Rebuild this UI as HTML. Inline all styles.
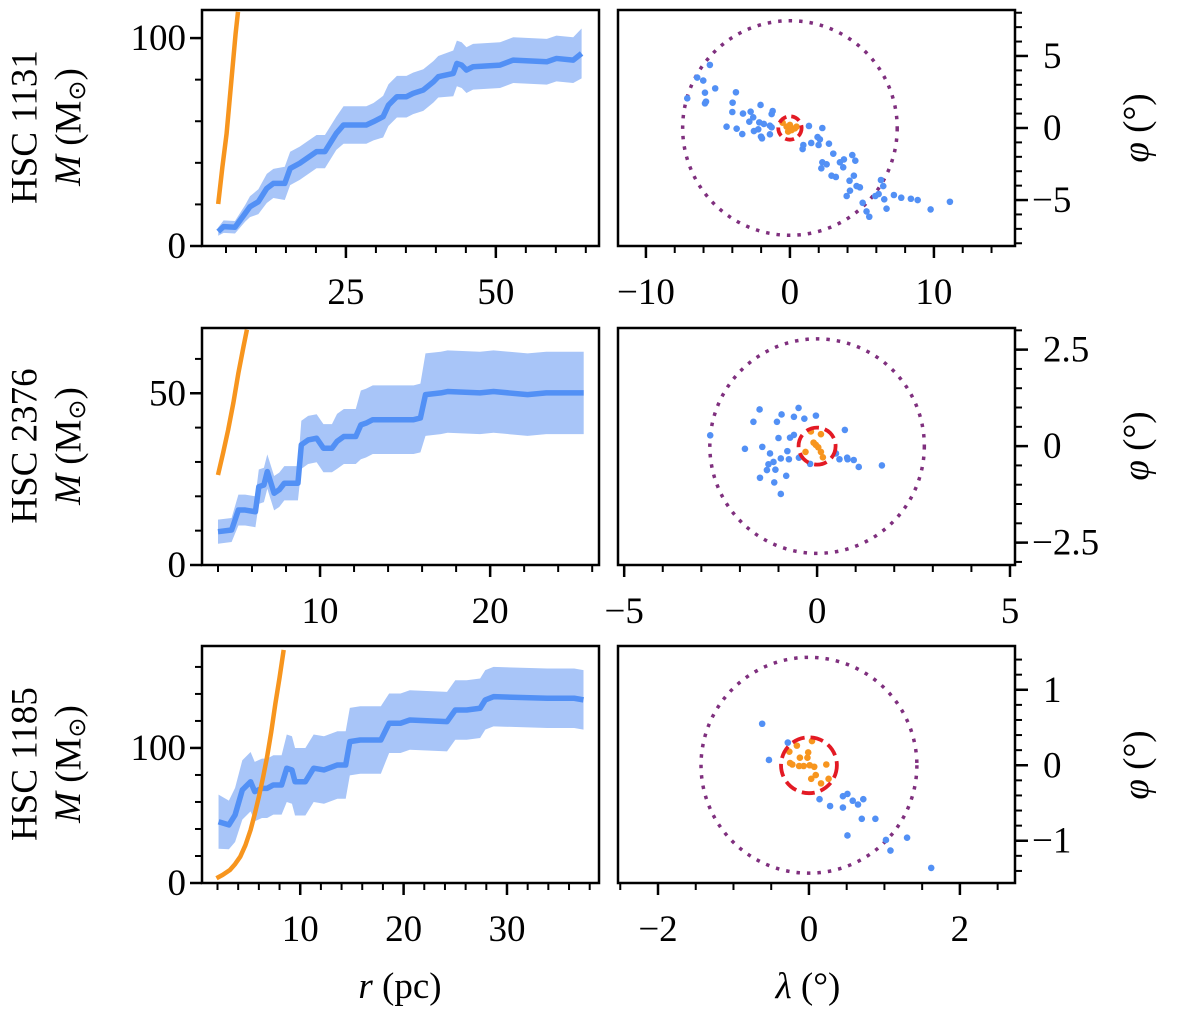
<!DOCTYPE html>
<html><head><meta charset="utf-8">
<style>
html,body{margin:0;padding:0;background:#fff;}
svg{display:block;font-family:"Liberation Serif",serif;}
</style></head>
<body>
<svg id="fig" width="1200" height="1010" viewBox="0 0 1200 1010" xmlns="http://www.w3.org/2000/svg">
<g id="root"></g>
<text x="28" y="127" font-size="37" text-anchor="middle" transform="rotate(-90 28 127)" dominant-baseline="middle">HSC 1131</text>
<text x="72" y="127" font-size="37" text-anchor="middle" transform="rotate(-90 72 127)" dominant-baseline="middle"><tspan font-style="italic">M</tspan> (M<tspan font-size="24" dy="7">⊙</tspan><tspan dy="-7">)</tspan></text>
<text x="28" y="446" font-size="37" text-anchor="middle" transform="rotate(-90 28 446)" dominant-baseline="middle">HSC 2376</text>
<text x="72" y="446" font-size="37" text-anchor="middle" transform="rotate(-90 72 446)" dominant-baseline="middle"><tspan font-style="italic">M</tspan> (M<tspan font-size="24" dy="7">⊙</tspan><tspan dy="-7">)</tspan></text>
<text x="28" y="764" font-size="37" text-anchor="middle" transform="rotate(-90 28 764)" dominant-baseline="middle">HSC 1185</text>
<text x="72" y="764" font-size="37" text-anchor="middle" transform="rotate(-90 72 764)" dominant-baseline="middle"><tspan font-style="italic">M</tspan> (M<tspan font-size="24" dy="7">⊙</tspan><tspan dy="-7">)</tspan></text>
<text x="1140" y="128" font-size="37" text-anchor="middle" transform="rotate(-90 1140 128)" dominant-baseline="middle"><tspan font-style="italic">φ</tspan> (°)</text>
<text x="1140" y="446" font-size="37" text-anchor="middle" transform="rotate(-90 1140 446)" dominant-baseline="middle"><tspan font-style="italic">φ</tspan> (°)</text>
<text x="1140" y="765" font-size="37" text-anchor="middle" transform="rotate(-90 1140 765)" dominant-baseline="middle"><tspan font-style="italic">φ</tspan> (°)</text>
<text x="400" y="998" font-size="37" text-anchor="middle"><tspan font-style="italic">r</tspan> (pc)</text>
<text x="808" y="998" font-size="37" text-anchor="middle"><tspan font-style="italic">λ</tspan> (°)</text>
</svg>
<script>
// ---------- Row 1: HSC 1131 ----------
const r1 = [3.7,4.6,6.5,8.2,9.0,10.4,11.8,12.9,14.8,15.7,17.3,20.1,21.5,23.4,24.6,28.4,29.6,31.2,32.1,33.5,35.1,36.2,37.9,39.6,40.4,42.9,43.5,44.3,45.1,46.2,50.7,52.9,58.5,60.1,62.9,64.3];
const m1 = [6.9,9.3,9.0,15.7,18.9,21.3,27.7,30.1,30.1,37.3,39.8,45.4,45.4,54.2,58.2,58.2,59.8,62.2,67.8,71.8,71.8,73.4,75,79,81.4,83,87.8,87,84.6,86.2,87,89.4,88.6,90.2,89.4,92.6];
const e1 = [2,3,3,4,5,6,7,7,8,8,8,8,8,8,9,9,9,10,10,10,10,10,10,10,10,11,11,11,11,11,11,11,11,11,11,12];
const ro1 = [3.7,4.4,5.1,5.6,6.1,6.6,7.0];
const mo1 = [20.2,38,54,70,86,102,112.6];
const bl1 = [-5.56,-6.44,-6.02,-7.13,-5.90,-5.19,-5.83,-5.90,-3.75,-3.98,-4.00,-3.26,-2.73,-2.04,-1.20,-1.27,-2.55,-2.82,-2.13,-1.81,-1.39,-4.40,-3.70,-3.31,-2.50,-2.20,-2.01,-1.94,-1.39,-1.27,1.32,2.25,0.93,0.88,1.48,1.92,2.08,1.99,2.71,3.01,4.33,4.54,3.75,3.47,2.25,2.55,2.18,3.70,2.89,3.19,4.44,4.14,4.63,4.86,4.17,3.94,5.05,5.32,5.51,5.93,6.16,6.32,6.48,6.55,6.71,7.22,7.73,8.40,8.87,9.77,11.11];
const bp1 = [4.38,3.50,3.29,2.06,2.45,2.75,1.83,1.71,2.48,1.76,1.11,1.00,1.13,1.60,1.18,0.97,0.74,0.44,0.39,0.28,0.16,0.09,-0.05,-0.42,-0.21,-0.09,-0.60,-0.72,-0.44,0.05,0.14,0.00,-1.18,-1.46,-1.04,-0.63,-0.79,-1.18,-1.09,-1.78,-1.88,-2.27,-2.18,-2.38,-2.38,-2.52,-2.80,-2.73,-3.31,-3.40,-3.31,-3.66,-4.03,-4.12,-4.35,-4.72,-5.19,-5.79,-6.16,-4.72,-4.58,-3.61,-4.03,-4.95,-5.60,-4.65,-4.84,-4.91,-5.00,-5.65,-5.12];
const ol1 = [-0.23,0,0.12,-0.12,0.35,-0.51,0.46];
const op1 = [0.09,0.21,-0.14,-0.25,-0.02,0.37,0.09];
// ---------- Row 2: HSC 2376 ----------
const r2 = [4.0,4.8,5.2,5.6,6.2,6.4,6.7,6.9,7.3,7.6,7.9,8.7,8.9,9.3,9.8,10.2,10.7,11.0,11.4,12.1,12.4,12.7,13.1,14.1,15.5,15.9,16.2,17.1,17.5,19.4,20.2,22.2,23.3,25.5];
const m2 = [9.7,10.2,16.0,16.0,15.5,22.8,23.3,27.2,20.9,21.9,23.8,23.8,35.0,36.4,36.9,34.0,34.0,36.0,37.4,37.4,40.8,41.3,42.3,42.3,42.3,42.8,49.6,50.1,50.5,50.1,50.5,49.6,50.1,50.1];
const e2 = [3.5,3.5,4.5,4.5,4.5,5,5,5,5,5,5,5,7,7,7,7,7,8,8,8,10,10,10,10,10,10,12,12,12,12,12,12,12,12];
const ro2 = [4.0,4.3,4.6,4.9,5.2,5.5,5.7];
const mo2 = [26.2,32.6,39.4,47.1,55.9,63.6,68.5];
const bl2 = [-1.49,-1.65,-0.92,-1.04,-0.48,-0.60,-0.33,-0.03,-1.00,-0.70,-0.60,0.72,-1.87,-1.42,-1.22,-0.77,-0.94,-0.73,-0.47,-0.18,-1.13,-1.26,-1.30,-1.08,-1.48,-0.80,-1.11,-0.94,0.49,0.58,0.78,0.79,0.95,1.08,1.68,-2.77];
const bp2 = [0.95,0.63,0.82,0.63,0.99,0.76,0.71,0.79,0.21,0.22,0.29,0.42,-0.07,-0.02,-0.19,-0.13,-0.32,-0.34,-0.30,-0.46,-0.41,-0.47,-0.62,-0.61,-0.82,-0.77,-0.94,-1.24,-0.19,-0.34,-0.30,-0.34,-0.36,-0.54,-0.50,0.28];
const ol2 = [-0.16,0.10,-0.09,-0.03,0.03,0.10,0.15,-0.30];
const op2 = [0.38,0.31,0.09,0.03,-0.03,-0.15,-0.29,-0.15];
// ---------- Row 3: HSC 1185 ----------
const r3 = [2.1,3.1,3.7,4.4,5.2,5.6,6.3,6.8,7.4,8.2,8.7,9.2,9.5,10.5,11.3,12.3,13.6,14.4,14.8,15.8,17.8,18.6,19.7,20.6,24.2,25.0,26.1,27.4,27.9,28.7,33.9,36.5,37.4];
const m3 = [45.4,43,50.4,68.9,75,67.7,70.1,70.1,72.6,72.6,85,83.7,75,75,85,83.7,87.4,87.4,104.7,105.9,105.9,118.3,118.3,120.7,119.5,128.1,128.1,129.4,135.6,138,136.8,136.8,135.6];
const e3 = [20,18,20,22,22,22,22,22,22,22,25,25,25,25,25,25,25,25,25,25,25,22,22,22,22,22,22,22,22,22,22,22,22];
const ro3 = [1.9,2.5,3.2,3.7,4.2,4.7,5.2,5.6,6.0,6.4,6.8,7.2,7.6,8.0,8.4];
const mo3 = [3.5,6,9.6,14,19.5,28,39.3,51,63.9,78,93.6,112,133,152,172.6];
const bl3 = [-0.62,-0.28,-0.53,0.14,0.28,0.45,0.45,0.51,0.58,0.65,0.72,0.70,0.88,0.51,1.02,1.08,1.30,1.62];
const bp3 = [0.55,0.30,0.07,-0.45,-0.54,-0.56,-0.41,-0.38,-0.47,-0.52,-0.45,-0.71,-0.71,-0.93,-0.99,-1.13,-0.96,-1.36];
const ol3 = [-0.26,-0.25,-0.22,-0.12,-0.01,-0.02,-0.13,-0.07,0.01,0.07,0.04,0.23,0.03,0.09,0.16,0.26,-0.16];
const op3 = [0.18,0.03,0.01,0.10,0.17,0.10,-0.01,-0.01,0.00,-0.02,0.32,0.01,-0.18,-0.13,-0.24,-0.18,0.26];
// aperture circles (degrees)
const outerRadius = [7.45, 2.78, 1.43];
const coreRadius = [0.81, 0.48, 0.37];
// tick values
const mXTicks1 = [25,50], mXMinor1 = [5,10,15,20,25,30,35,40,45,50,55,60,65];
const mYTicks1 = [0,100], mYMinor1 = [0,20,40,60,80,100];
const mXTicks2 = [10,20], mXMinor2 = [4,6,8,10,12,14,16,18,20,22,24,26];
const mYTicks2 = [0,50], mYMinor2 = [0,10,20,30,40,50,60];
const mXTicks3 = [10,20,30], mXMinor3 = [2,4,6,8,10,12,14,16,18,20,22,24,26,28,30,32,34,36,38];
const mYTicks3 = [0,100], mYMinor3 = [0,20,40,60,80,100,120,140,160];
const sXTicks1 = [-10,0,10], sXMinor1 = [-10,-8,-6,-4,-2,0,2,4,6,8,10,12,14];
const sYTicks1 = [-5,0,5], sYMinor1 = [-8,-7,-6,-5,-4,-3,-2,-1,0,1,2,3,4,5,6,7,8];
const sXTicks2 = [-5,0,5], sXMinor2 = [-5,-4,-3,-2,-1,0,1,2,3,4,5];
const sYTicks2 = [-2.5,0,2.5], sYMinor2 = [-3,-2.5,-2,-1.5,-1,-0.5,0,0.5,1,1.5,2,2.5,3];
const sXTicks3 = [-2,0,2], sXMinor3 = [-2.5,-2,-1.5,-1,-0.5,0,0.5,1,1.5,2,2.5];
const sYTicks3 = [-1,0,1], sYMinor3 = [-1.4,-1.2,-1,-0.8,-0.6,-0.4,-0.2,0,0.2,0.4,0.6,0.8,1,1.2,1.4];

const NS = "http://www.w3.org/2000/svg";
const root = document.getElementById('root');
function mk(tag, attrs, parent){ const e=document.createElementNS(NS,tag); for(const k in attrs) e.setAttribute(k,attrs[k]); (parent||root).appendChild(e); return e; }
function lin(d0,d1,p0,p1){ return v => p0+(v-d0)*(p1-p0)/(d1-d0); }
function fmt(v){ return (v<0?'−':'')+Math.abs(v); }

const BLUE='#5290f5', BAND='#a8c5f8', ORANGE='#f7951e', PURPLE='#7f2f7e', RED='#e31a24';
const XL=202, XR=599, SXL=618, SXR=1015;
const rows=[{top:10,bot:246},{top:328,bot:565},{top:646,bot:883}];
const FS=37;

function massPanel(i, xd, yd, r, m, e, ro, mo, xt, xm, yt, ym){
  const {top,bot}=rows[i];
  const X=lin(xd[0],xd[1],XL,XR), Y=lin(yd[0],yd[1],bot,top);
  const g=mk('g',{});  
  const cid='clipm'+i;
  const cp=mk('clipPath',{id:cid},g); mk('rect',{x:XL,y:top,width:XR-XL,height:bot-top},cp);
  const inner=mk('g',{'clip-path':'url(#'+cid+')'},g);
  let pts=r.map((v,k)=>X(v)+','+Y(m[k]+e[k]));
  for(let k=r.length-1;k>=0;k--) pts.push(X(r[k])+','+Y(m[k]-e[k]));
  const band=mk('polygon',{points:pts.join(' '),fill:BAND,stroke:'none'},inner);
   
  const ln=mk('polyline',{points:r.map((v,k)=>X(v)+','+Y(m[k])).join(' '),fill:'none',stroke:BLUE,'stroke-width':5.5,'stroke-linejoin':'round'},inner);
   
  const ol=mk('polyline',{points:ro.map((v,k)=>X(v)+','+Y(mo[k])).join(' '),fill:'none',stroke:ORANGE,'stroke-width':4.5,'stroke-linejoin':'round'},inner);
   
  mk('rect',{x:XL,y:top,width:XR-XL,height:bot-top,fill:'none',stroke:'#000','stroke-width':2.5},g);
  xm.forEach(v=>{ const x=X(v); if(x<XL-1||x>XR+1) return; mk('line',{x1:x,x2:x,y1:bot,y2:bot+7,stroke:'#000','stroke-width':2},g); });
  xt.forEach(v=>{ const x=X(v); mk('line',{x1:x,x2:x,y1:bot,y2:bot+12,stroke:'#000','stroke-width':2.5},g);
    const t=mk('text',{x:x,y:bot+58,'font-size':FS,'text-anchor':'middle'},g); t.textContent=fmt(v);
      });
  ym.forEach(v=>{ const y=Y(v); if(y<top-1||y>bot+1) return; mk('line',{x1:XL-7,x2:XL,y1:y,y2:y,stroke:'#000','stroke-width':2},g); });
  yt.forEach(v=>{ const y=Y(v); mk('line',{x1:XL-12,x2:XL,y1:y,y2:y,stroke:'#000','stroke-width':2.5},g);
    const t=mk('text',{x:XL-16,y:y+12,'font-size':FS,'text-anchor':'end'},g); t.textContent=fmt(v);
      });
}

function skyPanel(i, xd, yd, bl, bp, ol, op, R, rc, xt, xm, yt, ym){
  const {top,bot}=rows[i];
  const X=lin(xd[0],xd[1],SXL,SXR), Y=lin(yd[0],yd[1],bot,top);
  const sc=(SXR-SXL)/(xd[1]-xd[0]);
  const g=mk('g',{});  
  const cid='clips'+i;
  const cp=mk('clipPath',{id:cid},g); mk('rect',{x:SXL,y:top,width:SXR-SXL,height:bot-top},cp);
  const inner=mk('g',{'clip-path':'url(#'+cid+')'},g);
  const oc=mk('circle',{cx:X(0),cy:Y(0),r:R*sc,fill:'none',stroke:PURPLE,'stroke-width':3.5,'stroke-dasharray':'3.5 7'},inner);
   
  bl.forEach((v,k)=>{ const c=mk('circle',{cx:X(v),cy:Y(bp[k]),r:3.3,fill:BLUE},inner);
      });
  ol.forEach((v,k)=>{ const c=mk('circle',{cx:X(v),cy:Y(op[k]),r:3.3,fill:ORANGE},inner);
      });
  const rcirc=mk('circle',{cx:X(0),cy:Y(0),r:rc*sc,fill:'none',stroke:RED,'stroke-width':3.8,'stroke-dasharray':(i==0?'9 5':'13 6')},inner);
   
  mk('rect',{x:SXL,y:top,width:SXR-SXL,height:bot-top,fill:'none',stroke:'#000','stroke-width':2.5},g);
  xm.forEach(v=>{ const x=X(v); if(x<SXL-1||x>SXR+1) return; mk('line',{x1:x,x2:x,y1:bot,y2:bot+7,stroke:'#000','stroke-width':2},g); });
  xt.forEach(v=>{ const x=X(v); mk('line',{x1:x,x2:x,y1:bot,y2:bot+12,stroke:'#000','stroke-width':2.5},g);
    const t=mk('text',{x:x,y:bot+58,'font-size':FS,'text-anchor':'middle'},g); t.textContent=fmt(v);
      });
  ym.forEach(v=>{ const y=Y(v); if(y<top-1||y>bot+1) return; mk('line',{x1:SXR,x2:SXR+7,y1:y,y2:y,stroke:'#000','stroke-width':2},g); });
  yt.forEach(v=>{ const y=Y(v); mk('line',{x1:SXR,x2:SXR+13,y1:y,y2:y,stroke:'#000','stroke-width':2.5},g);
    const t=mk('text',{x:SXR+(v<0?17:28),y:y+12,'font-size':FS,'text-anchor':'start'},g); t.textContent=fmt(v);
      });
}

massPanel(0,[1,67.2],[0,113.5],r1,m1,e1,ro1,mo1,mXTicks1,mXMinor1,mYTicks1,mYMinor1);
massPanel(1,[3.06,26.4],[0,69],r2,m2,e2,ro2,mo2,mXTicks2,mXMinor2,mYTicks2,mYMinor2);
massPanel(2,[0.5,38.9],[0,175.5],r3,m3,e3,ro3,mo3,mXTicks3,mXMinor3,mYTicks3,mYMinor3);
skyPanel(0,[-11.94,15.63],[-8.19,8.19],bl1,bp1,ol1,op1,outerRadius[0],coreRadius[0],sXTicks1,sXMinor1,sYTicks1,sYMinor1);
skyPanel(1,[-5.16,5.13],[-3.08,3.06],bl2,bp2,ol2,op2,outerRadius[1],coreRadius[1],sXTicks2,sXMinor2,sYTicks2,sYMinor2);
skyPanel(2,[-2.53,2.73],[-1.56,1.58],bl3,bp3,ol3,op3,outerRadius[2],coreRadius[2],sXTicks3,sXMinor3,sYTicks3,sYMinor3);
</script>
</body></html>
